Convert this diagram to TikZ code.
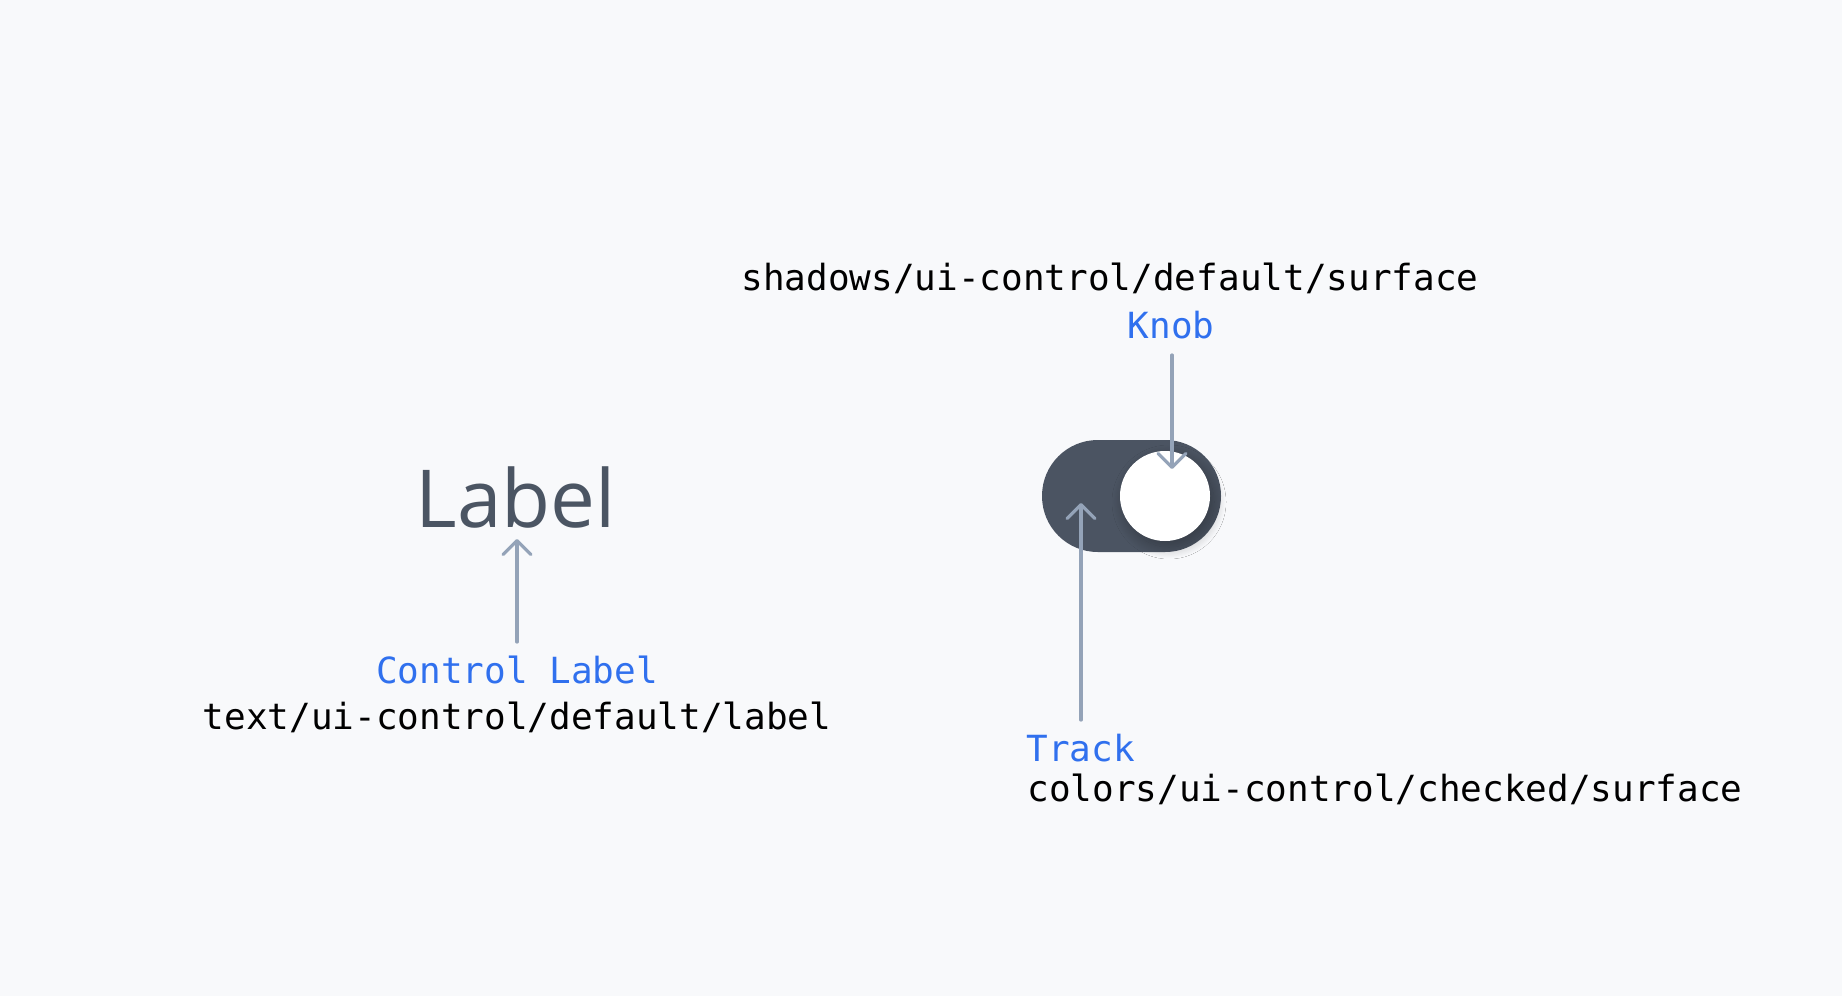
\documentclass[tikz,border=0pt]{standalone}
\usepackage{fontspec}
\setmainfont{Open Sans}
\setsansfont{Open Sans}
\setmonofont{DejaVu Sans Mono}
\usetikzlibrary{arrows.meta,shadows.blur}
\definecolor{bg}{HTML}{F8F9FB}
\definecolor{blue}{HTML}{3070EE}
\definecolor{arrowgray}{HTML}{94A3B8}
\definecolor{trackc}{HTML}{4B5462}
\definecolor{labelc}{HTML}{4B5563}
\tikzset{
  mono/.style={font=\fontsize{18}{22}\selectfont\ttfamily, inner sep=0pt, text=black},
  bluetxt/.style={font=\fontsize{18}{22}\selectfont\ttfamily, inner sep=0pt, text=blue},
  arr/.style={draw=arrowgray, line width=1.6pt, line cap=round,
    -{Straight Barb[length=7pt,width=14pt,line width=1.6pt,round]}},
}
\begin{document}
\begin{tikzpicture}[x=0.5pt,y=-0.5pt]
\fill[bg] (0,0) rectangle (1842,996);
\useasboundingbox (0,0) rectangle (1842,996);
% Label
\node[font=\fontsize{40}{48}\selectfont\sffamily, text=labelc, inner sep=0pt] (lbl) at (516,497) {Label};
\node[bluetxt] (ctl) at (517,670) {Control Label};
\node[mono] (ctltok) at (517,717) {text/ui-control/default/label};
\coordinate (lblstart) at (517,642);
\coordinate (lbltip) at (517,539);
\draw[arr] (lblstart) -- (lbltip);
% Toggle
\fill[trackc, rounded corners=27.9pt] (1042,440) rectangle (1221,552);
\node[circle, fill=white, minimum size=45pt, inner sep=0pt,
  blur shadow={shadow xshift=2pt, shadow yshift=-3pt, shadow blur steps=30, shadow opacity=30, shadow blur radius=6pt}] (knob) at (1165,496) {};
\node[mono] (shadowtok) at (1110,278) {shadows/ui-control/default/surface};
\node[bluetxt] (knoblbl) at (1171,325) {Knob};
\coordinate (knobstart) at (1172,355);
\coordinate (knobtip) at (1172,469);
\draw[arr] (knobstart) -- (knobtip);
\node[bluetxt, anchor=west] (tracklbl) at (1026,748) {Track};
\node[mono, anchor=west] (tracktok) at (1027,789) {colors/ui-control/checked/surface};
\coordinate (trackstart) at (1081,720);
\coordinate (tracktip) at (1081,503);
\draw[arr] (trackstart) -- (tracktip);
\end{tikzpicture}
\end{document}
